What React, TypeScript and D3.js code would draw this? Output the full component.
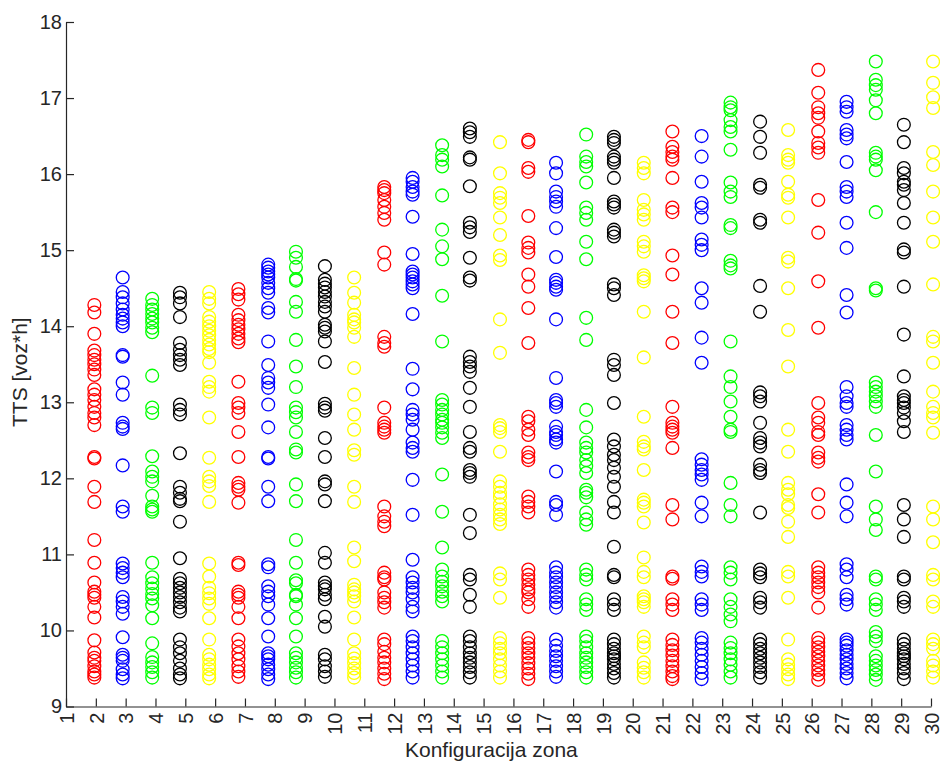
import React, { useRef, useEffect } from "react";
import * as d3 from "d3";

// column positions, one per zone configuration
const zonaX = [
  1.95, 2.9, 3.89, 4.82, 5.8, 6.78, 7.78, 8.71, 9.68, 10.66, 11.67, 12.62, 13.61, 14.54, 15.55,
  16.5, 17.43, 18.44, 19.37, 20.37, 21.33, 22.31, 23.28, 24.27, 25.21, 26.22, 27.17, 28.15, 29.09, 30.07,
];

// MATLAB colour cycle r, b, g, k, y
const markerColors = ["#ff0000", "#0000ff", "#00ff00", "#000000", "#ffff00"];

const xTicks = [1, 2, 3, 4, 5, 6, 7, 8, 9, 10, 11, 12, 13, 14, 15, 16, 17, 18, 19, 20, 21, 22, 23, 24, 25, 26, 27, 28, 29, 30];
const yTicks = [9, 10, 11, 12, 13, 14, 15, 16, 17, 18];

const tts01 = [14.28, 14.18, 13.9, 13.68, 13.62, 13.56, 13.5, 13.43, 13.36, 13.17, 13.1, 13.03, 12.94, 12.86, 12.8, 12.7, 12.28, 12.26, 11.89, 11.69, 11.19, 10.89, 10.63, 10.51, 10.47, 10.43, 10.31, 10.17, 9.87, 9.71, 9.64, 9.6, 9.53, 9.46, 9.42, 9.38];
const tts02 = [14.64, 14.45, 14.38, 14.3, 14.22, 14.15, 14.1, 14.05, 14.0, 13.62, 13.6, 13.26, 13.1, 12.73, 12.68, 12.65, 12.17, 11.63, 11.56, 10.88, 10.82, 10.76, 10.7, 10.44, 10.38, 10.31, 10.22, 9.91, 9.68, 9.64, 9.6, 9.49, 9.42, 9.37];
const tts03 = [14.36, 14.28, 14.22, 14.16, 14.1, 14.05, 13.98, 13.92, 13.35, 12.93, 12.86, 12.29, 12.09, 12.02, 11.96, 11.77, 11.63, 11.59, 11.56, 10.89, 10.7, 10.62, 10.55, 10.48, 10.42, 10.33, 10.16, 9.83, 9.65, 9.58, 9.52, 9.45, 9.38];
const tts04 = [14.44, 14.38, 14.3, 14.12, 13.78, 13.69, 13.62, 13.56, 13.49, 12.97, 12.9, 12.84, 12.33, 11.89, 11.81, 11.73, 11.7, 11.43, 10.95, 10.68, 10.62, 10.56, 10.5, 10.44, 10.37, 10.3, 10.25, 9.88, 9.78, 9.7, 9.6, 9.5, 9.42, 9.37];
const tts05 = [14.45, 14.36, 14.3, 14.12, 14.06, 14.0, 13.94, 13.88, 13.82, 13.76, 13.7, 13.66, 13.52, 13.27, 13.2, 13.14, 12.8, 12.27, 12.02, 11.96, 11.9, 11.69, 10.88, 10.71, 10.56, 10.49, 10.42, 10.35, 10.16, 9.88, 9.68, 9.62, 9.55, 9.49, 9.42, 9.37];
const tts06 = [14.49, 14.42, 14.35, 14.15, 14.08, 14.02, 13.96, 13.9, 13.84, 13.79, 13.27, 12.99, 12.93, 12.86, 12.61, 12.28, 11.94, 11.89, 11.85, 11.68, 10.89, 10.86, 10.51, 10.47, 10.43, 10.31, 10.16, 9.88, 9.79, 9.7, 9.62, 9.53, 9.46, 9.39];
const tts07 = [14.81, 14.77, 14.72, 14.68, 14.64, 14.57, 14.5, 14.44, 14.24, 14.18, 13.8, 13.49, 13.32, 13.26, 13.19, 12.97, 12.67, 12.28, 12.26, 11.89, 11.7, 10.87, 10.83, 10.58, 10.51, 10.45, 10.34, 10.16, 9.92, 9.7, 9.66, 9.62, 9.55, 9.49, 9.42, 9.36];
const tts08 = [14.98, 14.9, 14.78, 14.62, 14.6, 14.32, 14.19, 13.82, 13.47, 13.2, 12.93, 12.87, 12.8, 12.61, 12.38, 12.34, 11.92, 11.7, 11.19, 10.89, 10.66, 10.62, 10.47, 10.45, 10.34, 10.16, 9.92, 9.7, 9.64, 9.58, 9.51, 9.45, 9.38];
const tts09 = [14.79, 14.61, 14.56, 14.51, 14.45, 14.39, 14.32, 14.26, 14.19, 14.02, 13.98, 13.93, 13.8, 13.53, 12.98, 12.93, 12.89, 12.53, 12.28, 11.96, 11.92, 11.7, 11.02, 10.89, 10.63, 10.58, 10.54, 10.47, 10.41, 10.18, 10.05, 9.68, 9.62, 9.53, 9.46, 9.39];
const tts10 = [14.64, 14.44, 14.31, 14.15, 14.09, 14.05, 13.98, 13.86, 13.45, 13.1, 12.84, 12.64, 12.37, 12.31, 11.89, 11.69, 11.09, 10.91, 10.6, 10.54, 10.5, 10.45, 10.38, 10.17, 9.88, 9.7, 9.63, 9.57, 9.5, 9.44, 9.38];
const tts11 = [15.83, 15.79, 15.75, 15.66, 15.57, 15.49, 15.4, 14.97, 14.81, 13.86, 13.78, 13.73, 12.93, 12.73, 12.68, 12.64, 12.6, 11.63, 11.5, 11.43, 11.37, 10.76, 10.7, 10.67, 10.5, 10.43, 10.37, 10.3, 9.88, 9.82, 9.72, 9.64, 9.58, 9.5, 9.43, 9.36];
const tts12 = [15.95, 15.9, 15.83, 15.77, 15.73, 15.44, 14.95, 14.72, 14.68, 14.64, 14.59, 14.55, 14.5, 14.16, 13.44, 13.17, 12.9, 12.84, 12.77, 12.64, 12.47, 12.4, 12.35, 11.98, 11.52, 10.93, 10.7, 10.63, 10.56, 10.5, 10.41, 10.31, 10.25, 9.92, 9.86, 9.78, 9.7, 9.62, 9.54, 9.46, 9.38];
const tts13 = [16.38, 16.25, 16.19, 16.1, 15.72, 15.27, 15.05, 14.88, 14.4, 13.8, 13.03, 12.97, 12.9, 12.84, 12.77, 12.73, 12.67, 12.6, 12.53, 12.05, 11.56, 11.09, 10.8, 10.71, 10.64, 10.58, 10.51, 10.45, 10.38, 9.86, 9.78, 9.7, 9.62, 9.54, 9.46, 9.38];
const tts14 = [16.6, 16.55, 16.49, 16.22, 16.19, 15.84, 15.36, 15.3, 15.24, 14.9, 14.64, 14.6, 13.6, 13.53, 13.47, 13.4, 13.19, 12.94, 12.61, 12.4, 12.35, 12.11, 12.07, 12.02, 11.52, 11.28, 10.73, 10.67, 10.47, 10.31, 9.92, 9.86, 9.78, 9.7, 9.64, 9.58, 9.52, 9.45, 9.38];
const tts15 = [16.42, 16.01, 15.75, 15.69, 15.62, 15.43, 15.2, 14.93, 14.87, 14.09, 13.65, 12.7, 12.66, 12.61, 12.35, 11.96, 11.89, 11.81, 11.75, 11.66, 11.59, 11.52, 11.46, 11.4, 10.75, 10.67, 10.43, 9.9, 9.83, 9.76, 9.7, 9.62, 9.54, 9.46, 9.38];
const tts16 = [16.45, 16.42, 16.08, 16.03, 15.45, 15.1, 15.03, 14.97, 14.68, 14.52, 14.24, 13.78, 12.81, 12.75, 12.64, 12.57, 12.34, 12.28, 12.24, 11.76, 11.69, 11.63, 11.55, 10.8, 10.73, 10.67, 10.6, 10.54, 10.5, 10.41, 10.31, 9.9, 9.83, 9.77, 9.7, 9.64, 9.57, 9.5, 9.43, 9.36];
const tts17 = [16.15, 16.01, 15.77, 15.7, 15.64, 15.57, 15.29, 14.91, 14.61, 14.57, 14.52, 14.48, 14.09, 13.32, 13.03, 12.99, 12.94, 12.68, 12.61, 12.57, 12.51, 12.47, 12.09, 11.69, 11.65, 11.52, 10.83, 10.76, 10.7, 10.63, 10.57, 10.5, 10.44, 10.37, 10.3, 9.88, 9.8, 9.73, 9.66, 9.6, 9.53, 9.46, 9.39];
const tts18 = [16.52, 16.23, 16.16, 16.1, 15.89, 15.56, 15.49, 15.4, 15.11, 14.88, 14.11, 13.82, 12.9, 12.67, 12.47, 12.4, 12.34, 12.24, 12.16, 12.07, 11.85, 11.81, 11.75, 11.55, 11.46, 11.39, 10.8, 10.73, 10.67, 10.41, 10.34, 10.27, 9.92, 9.86, 9.78, 9.7, 9.64, 9.58, 9.52, 9.45, 9.38];
const tts19 = [16.49, 16.45, 16.41, 16.23, 16.19, 16.15, 15.95, 15.64, 15.6, 15.56, 15.27, 15.23, 15.18, 14.55, 14.5, 14.41, 13.56, 13.49, 13.36, 12.99, 12.51, 12.42, 12.31, 12.24, 12.14, 12.02, 11.89, 11.69, 11.55, 11.1, 10.73, 10.7, 10.41, 10.34, 10.27, 9.88, 9.82, 9.76, 9.7, 9.66, 9.62, 9.56, 9.5, 9.44, 9.38];
const tts20 = [16.15, 16.08, 16.01, 15.66, 15.53, 15.47, 15.4, 15.11, 15.05, 14.98, 14.67, 14.63, 14.59, 14.19, 13.59, 12.81, 12.48, 12.42, 12.38, 12.11, 11.72, 11.68, 11.63, 11.42, 10.96, 10.77, 10.7, 10.45, 10.41, 10.37, 10.31, 9.92, 9.84, 9.78, 9.58, 9.51, 9.45, 9.38];
const tts21 = [16.56, 16.36, 16.29, 16.23, 16.19, 15.95, 15.56, 15.5, 14.93, 14.68, 14.19, 13.78, 12.94, 12.73, 12.68, 12.64, 12.6, 12.4, 11.65, 11.46, 10.71, 10.68, 10.41, 10.34, 10.27, 9.88, 9.81, 9.74, 9.67, 9.6, 9.53, 9.46, 9.4, 9.36];
const tts22 = [16.5, 16.23, 15.9, 15.62, 15.56, 15.43, 15.14, 15.07, 15.0, 14.5, 14.31, 13.85, 13.52, 12.25, 12.18, 12.11, 12.05, 11.98, 11.68, 11.5, 10.84, 10.77, 10.71, 10.41, 10.34, 10.27, 9.9, 9.84, 9.76, 9.68, 9.6, 9.52, 9.44, 9.36];
const tts23 = [16.94, 16.88, 16.84, 16.71, 16.62, 16.56, 16.32, 15.89, 15.77, 15.7, 15.33, 15.29, 14.86, 14.8, 14.76, 13.8, 13.34, 13.2, 13.01, 12.81, 12.64, 12.61, 11.94, 11.65, 11.5, 10.83, 10.76, 10.67, 10.41, 10.31, 10.21, 10.12, 9.84, 9.77, 9.7, 9.62, 9.55, 9.46, 9.38];
const tts24 = [16.69, 16.49, 16.28, 15.86, 15.82, 15.4, 15.36, 14.53, 14.19, 13.13, 13.08, 13.01, 12.73, 12.53, 12.47, 12.42, 12.18, 12.11, 12.07, 11.55, 10.8, 10.75, 10.7, 10.43, 10.37, 10.3, 9.88, 9.82, 9.76, 9.7, 9.64, 9.58, 9.52, 9.45, 9.38];
const tts25 = [16.58, 16.25, 16.19, 16.15, 15.9, 15.73, 15.69, 15.43, 14.9, 14.85, 14.5, 13.95, 13.47, 12.64, 12.35, 11.94, 11.85, 11.79, 11.65, 11.61, 11.43, 11.23, 10.77, 10.71, 10.43, 9.88, 9.62, 9.55, 9.49, 9.42, 9.36];
const tts26 = [17.37, 17.07, 16.88, 16.8, 16.74, 16.56, 16.41, 16.35, 16.28, 15.66, 15.23, 14.59, 13.98, 12.99, 12.8, 12.73, 12.61, 12.57, 12.34, 12.27, 12.22, 11.79, 11.55, 10.83, 10.76, 10.7, 10.63, 10.57, 10.5, 10.3, 9.9, 9.84, 9.78, 9.72, 9.66, 9.6, 9.54, 9.48, 9.42, 9.35];
const tts27 = [16.95, 16.88, 16.82, 16.58, 16.52, 16.47, 16.16, 15.83, 15.77, 15.7, 15.36, 15.03, 14.41, 14.18, 13.2, 13.08, 12.99, 12.94, 12.7, 12.64, 12.57, 12.51, 11.92, 11.68, 11.5, 10.87, 10.8, 10.7, 10.47, 10.41, 10.34, 9.88, 9.84, 9.8, 9.74, 9.68, 9.62, 9.56, 9.5, 9.44, 9.37];
const tts28 = [17.48, 17.24, 17.17, 17.11, 16.97, 16.8, 16.28, 16.23, 16.19, 16.05, 15.5, 14.5, 14.47, 13.26, 13.2, 13.14, 13.08, 13.01, 12.94, 12.57, 12.09, 11.63, 11.46, 11.32, 10.71, 10.67, 10.41, 10.34, 10.27, 9.98, 9.92, 9.86, 9.66, 9.6, 9.54, 9.48, 9.42, 9.35];
const tts29 = [16.65, 16.42, 16.08, 16.01, 15.9, 15.86, 15.79, 15.62, 15.36, 15.01, 14.97, 14.52, 13.89, 13.34, 13.08, 13.03, 12.99, 12.93, 12.86, 12.75, 12.61, 11.65, 11.46, 11.23, 10.71, 10.67, 10.43, 10.38, 10.31, 9.88, 9.82, 9.76, 9.7, 9.66, 9.62, 9.56, 9.5, 9.44, 9.36];
const tts30 = [17.48, 17.2, 17.01, 16.87, 16.29, 16.12, 15.77, 15.43, 15.11, 14.55, 13.86, 13.8, 13.52, 13.14, 12.94, 12.86, 12.8, 12.6, 11.63, 11.46, 11.16, 10.73, 10.67, 10.38, 10.31, 9.88, 9.82, 9.76, 9.6, 9.54, 9.46, 9.38];

const ttsByZona = [
  tts01, tts02, tts03, tts04, tts05, tts06, tts07, tts08, tts09, tts10,
  tts11, tts12, tts13, tts14, tts15, tts16, tts17, tts18, tts19, tts20,
  tts21, tts22, tts23, tts24, tts25, tts26, tts27, tts28, tts29, tts30,
];

const WIDTH = 940;
const HEIGHT = 765;
const AXIS_COLOR = "#262626";
const FONT = "'Liberation Sans', Arial, Helvetica, sans-serif";

const TtsScatter: React.FC = () => {
  const ref = useRef<SVGSVGElement | null>(null);

  useEffect(() => {
    const svg = d3.select(ref.current);
    svg.selectAll("*").remove();

    const x = d3.scaleLinear().domain([1, 30]).range([66, 931]);
    const y = d3.scaleLinear().domain([9, 18]).range([706.5, 22]);

    svg.append("rect").attr("width", WIDTH).attr("height", HEIGHT).attr("fill", "#fff");

    // points
    const points = ttsByZona.flatMap((vals, i) =>
      vals.map((v) => ({ x: zonaX[i], y: v, color: markerColors[i % markerColors.length] }))
    );
    svg
      .append("g")
      .selectAll("circle")
      .data(points)
      .enter()
      .append("circle")
      .attr("cx", (d) => x(d.x))
      .attr("cy", (d) => y(d.y))
      .attr("r", 6.4)
      .attr("fill", "none")
      .attr("stroke", (d) => d.color)
      .attr("stroke-width", 1.3);

    // y axis (ticks point inward, like MATLAB)
    const gy = svg
      .append("g")
      .attr("transform", `translate(${x(1)},0)`)
      .call(
        d3
          .axisLeft(y)
          .tickValues(yTicks)
          .tickFormat(d3.format("d"))
          .tickSizeInner(-8)
          .tickSizeOuter(0)
          .tickPadding(4)
      );
    gy.selectAll("path, line").attr("stroke", AXIS_COLOR).attr("stroke-width", 1.2);
    gy.selectAll("text")
      .attr("fill", AXIS_COLOR)
      .style("font-family", FONT)
      .style("font-size", "20px");

    // x axis
    const gx = svg
      .append("g")
      .attr("transform", `translate(0,${y(9)})`)
      .call(
        d3
          .axisBottom(x)
          .tickValues(xTicks)
          .tickFormat(d3.format("d"))
          .tickSizeInner(-8)
          .tickSizeOuter(0)
      );
    gx.selectAll("path, line").attr("stroke", AXIS_COLOR).attr("stroke-width", 1.2);
    gx.selectAll("text")
      .attr("fill", AXIS_COLOR)
      .attr("y", 0)
      .attr("dy", "0.36em")
      .attr("transform", "translate(0,6) rotate(-90)")
      .attr("text-anchor", "end")
      .style("font-family", FONT)
      .style("font-size", "20px");

    // axis titles
    svg
      .append("text")
      .attr("transform", "translate(27,427) rotate(-90)")
      .attr("text-anchor", "start")
      .attr("fill", AXIS_COLOR)
      .style("font-family", FONT)
      .style("font-size", "21px")
      .text("TTS [voz*h]");

    svg
      .append("text")
      .attr("x", 405)
      .attr("y", 757)
      .attr("text-anchor", "start")
      .attr("fill", AXIS_COLOR)
      .style("font-family", FONT)
      .style("font-size", "21px")
      .text("Konfiguracija zona");
  }, []);

  return (
    <svg
      ref={ref}
      width={WIDTH}
      height={HEIGHT}
      style={{ position: "absolute", left: 0, top: 0, display: "block" }}
    />
  );
};

export default function App() {
  return <TtsScatter />;
}
